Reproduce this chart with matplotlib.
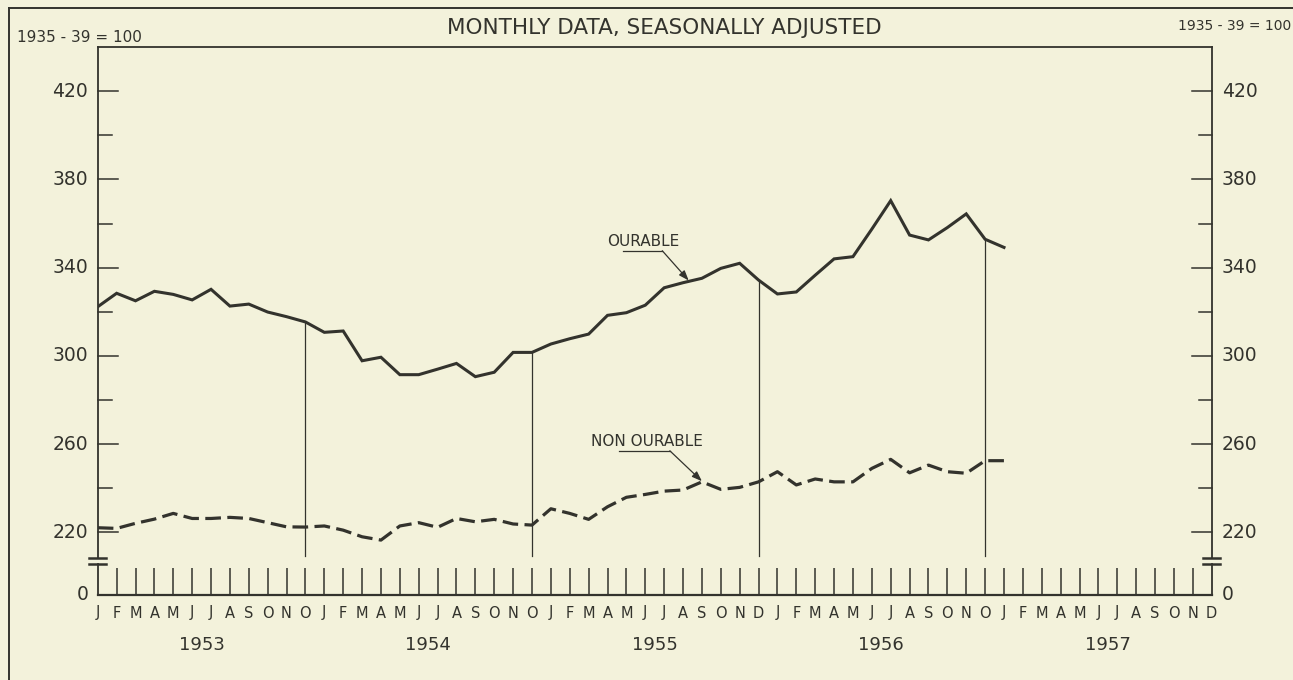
import matplotlib
matplotlib.use("Agg")
import matplotlib.pyplot as plt
import numpy as np

# ------------------------------------------------------------------ data
# index values, 1935-39 = 100, Jan 1953 .. Jan 1957
durable = [322.3, 328.4, 325.0, 329.3, 327.9, 325.4, 330.2, 322.6, 323.5, 319.9, 317.8, 315.4,
           310.7, 311.3, 297.8, 299.4, 291.5, 291.5, 294.0, 296.6, 290.6, 292.6, 301.6, 301.6,
           305.4, 307.8, 309.9, 318.4, 319.6, 323.0, 330.9, 333.2, 335.2, 339.7, 342.0, 334.4,
           328.1, 329.0, 336.6, 344.0, 345.0, 357.5, 370.4, 354.8, 352.6, 358.2, 364.4, 352.9,
           349.2]
nondurable = [222.1, 221.8, 224.1, 226.0, 228.6, 226.3, 226.3, 226.8, 226.3, 224.4, 222.5, 222.4,
              222.9, 221.0, 218.0, 216.5, 222.9, 224.4, 222.3, 226.3, 224.8, 225.9, 223.8, 223.3,
              230.7, 228.6, 225.9, 231.6, 235.9, 237.2, 238.7, 239.2, 242.9, 239.5, 240.4, 242.9,
              247.5, 241.5, 244.2, 242.9, 242.9, 249.0, 253.1, 247.0, 250.5, 247.5, 246.8, 252.5,
              252.5]
years = ["1953", "1954", "1955", "1956", "1957"]
month_letters = ["JFMAMJJASONO", "JFMAMJJASONO", "JFMAMJJASOND",
                 "JFMAMJJASONO", "JFMAMJJASOND"]
major_ticks = [220, 260, 300, 340, 380, 420]
minor_ticks = [240, 280, 320, 360, 400]
dec_marks = [11, 23, 35, 47]          # December rules (month index)

INK = "#33332d"
BG = "#f3f2db"
Y0, Y1 = 191.6, 440.2                 # axis range; bottom edge reads "0"
BREAK_HI, BREAK_LO = 208.5, 205.5
TICK_TOP = 204.0

fig = plt.figure(figsize=(12.93, 6.8), dpi=100, facecolor=BG)
ax = fig.add_axes([0.0756, 0.125, 0.8615, 0.8063], facecolor=BG)
n_months = 60
ax.set_xlim(0, n_months - 1)
ax.set_ylim(Y0, Y1)

x = np.arange(len(durable))
ax.plot(x, durable, color=INK, lw=2.2, solid_joinstyle="miter", zorder=3)
ax.plot(x, nondurable, color=INK, lw=2.3, ls=(0, (4.9, 2.0)), zorder=3)

# december rules from the durable line down to the break
for m in dec_marks:
    ax.plot([m, m], [durable[m], 209.3], color=INK, lw=0.9, zorder=2)

# spines: top and bottom full, sides broken
for s in ax.spines.values():
    s.set_visible(False)
ax.plot([0, n_months - 1], [Y1, Y1], color=INK, lw=1.3, clip_on=False)
ax.plot([0, n_months - 1], [Y0, Y0], color=INK, lw=1.6, clip_on=False)
for xs in (0, n_months - 1):
    ax.plot([xs, xs], [BREAK_HI, Y1], color=INK, lw=1.3, clip_on=False)
    ax.plot([xs, xs], [Y0, BREAK_LO], color=INK, lw=1.3, clip_on=False)
    for yb in (BREAK_HI, BREAK_LO):
        ax.plot([xs - 0.46, xs + 0.46], [yb, yb], color=INK, lw=1.8, clip_on=False)

# monthly tick marks along the bottom
ax.vlines(np.arange(1, n_months - 1), Y0, TICK_TOP, color=INK, lw=1.1)

# value ticks, both sides
ax.set_xticks([])
ax.set_yticks([])
for side, x0, sgn, ha, lx in ((0, 0, 1, "right", -0.5), (1, n_months - 1, -1, "left", 0.55)):
    for v in major_ticks:
        ax.plot([x0, x0 + sgn * 1.05], [v, v], color=INK, lw=1.1, clip_on=False)
        ax.text(x0 + lx, v, str(v), ha=ha, va="center", fontsize=13.5, color=INK)
    for v in minor_ticks:
        ax.plot([x0, x0 + sgn * (0.75 if side == 0 else 0.68)], [v, v], color=INK, lw=1.1,
                clip_on=False)
    ax.text(x0 + lx, Y0, "0", ha=ha, va="center", fontsize=13.5, color=INK)

# month letters and years
for i, (yr, letters) in enumerate(zip(years, month_letters)):
    for j, ch in enumerate(letters):
        ax.annotate(ch, (i * 12 + j, Y0), xytext=(0, -18), textcoords="offset pixels",
                    ha="center", va="center", fontsize=10.5, color=INK)
    ax.annotate(yr, (i * 12 + 5.5, Y0), xytext=(0, -50), textcoords="offset pixels",
                ha="center", va="center", fontsize=13, color=INK)

# series labels with leaders
ax.text(28.9, 351.9, "OURABLE", ha="center", va="center", fontsize=11, color=INK)
ax.plot([27.8, 29.9], [347.7, 347.7], color=INK, lw=0.9)
ax.annotate("", xy=(31.3, 334.2), xytext=(29.9, 347.7),
            arrowprops=dict(arrowstyle="-|>,head_length=0.6,head_width=0.22",
                            color=INK, lw=0.9, shrinkA=0, shrinkB=0))
ax.text(29.1, 261.3, "NON OURABLE", ha="center", va="center", fontsize=11, color=INK)
ax.plot([27.6, 30.3], [257.0, 257.0], color=INK, lw=0.9)
ax.annotate("", xy=(32.0, 243.2), xytext=(30.3, 257.0),
            arrowprops=dict(arrowstyle="-|>,head_length=0.6,head_width=0.22",
                            color=INK, lw=0.9, shrinkA=0, shrinkB=0))

# header texts and outer frame
fig.text(0.5135, 1 - 27.5 / 680, "MONTHLY DATA, SEASONALLY ADJUSTED", ha="center",
         va="center", fontsize=15.5, color=INK)
fig.text(17 / 1293, 1 - 38 / 680, "1935 - 39 = 100", ha="left", va="center",
         fontsize=11, color=INK)
fig.text(1291 / 1293, 1 - 25.5 / 680, "1935 - 39 = 100", ha="right", va="center",
         fontsize=10, color=INK)
fig.add_artist(plt.Line2D([9 / 1293, 1], [1 - 8 / 680, 1 - 8 / 680], color=INK, lw=1.4))
fig.add_artist(plt.Line2D([9 / 1293, 9 / 1293], [0, 1 - 8 / 680], color=INK, lw=1.4))

fig.savefig("out.png", dpi=100, facecolor=BG)
